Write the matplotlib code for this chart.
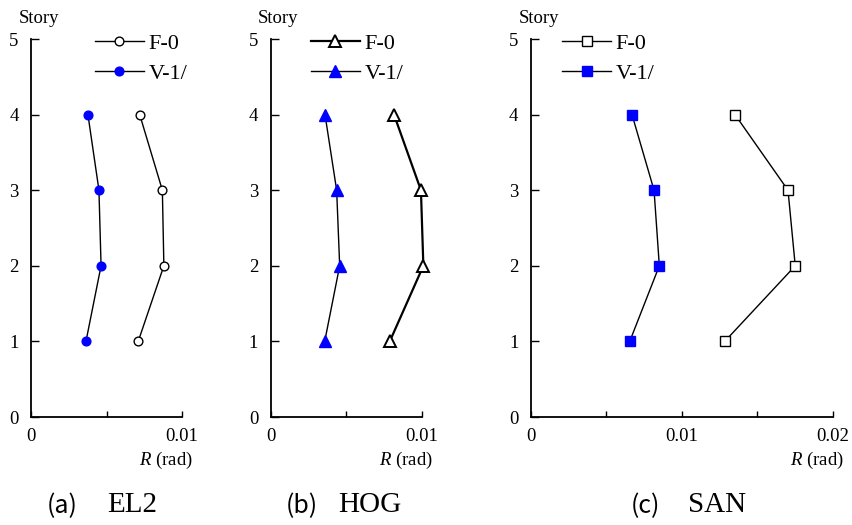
import matplotlib.pyplot as plt
from matplotlib.ticker import FixedLocator

plt.rcParams["mathtext.fontset"] = "custom"
plt.rcParams["mathtext.rm"] = "Liberation Serif"
plt.rcParams["mathtext.it"] = "Liberation Serif:italic"

stories = [1, 2, 3, 4]

el2_f0 = [0.0071, 0.0088, 0.0087, 0.0072]
el2_v1 = [0.00364, 0.00464, 0.0045, 0.00377]
hog_f0 = [0.00787, 0.01009, 0.00993, 0.00815]
hog_v1 = [0.00357, 0.00456, 0.00436, 0.00359]
san_f0 = [0.01283, 0.0175, 0.01702, 0.01351]
san_v1 = [0.00654, 0.0085, 0.00815, 0.00669]

series_labels = ["F-0", "V-1/"]
panel_letters = ["(a)", "(b)", "(c)"]
panel_names = ["EL2", "HOG", "SAN"]
x_max = [0.01, 0.01, 0.02]
x_labels = [["0", "0.01"], ["0", "0.01"], ["0", "0.01", "0.02"]]

SERIF = "Liberation Serif"
SANS = ["Noto Sans CJK JP", "DejaVu Sans"]
W, H = 852, 525

fig = plt.figure(figsize=(W / 100, H / 100), dpi=100)

# axes boxes in figure fraction (left, bottom, width, height)
boxes = [
    (0.0364, 0.2057, 0.1772, 0.72),
    (0.3177, 0.2057, 0.1776, 0.72),
    (0.6232, 0.2057, 0.3545, 0.72),
]
legend_x = [0.424, 0.266, 0.103]
# caption pieces: right edge of letter, left edge of name (pixels)
letter_right = [78, 318, 660]
name_left = [107, 338, 688]
markers = ["o", "^", "s"]
msizes = [6.3, 8.0, 6.5]
data = [(el2_f0, el2_v1), (hog_f0, hog_v1), (san_f0, san_v1)]

for i, box in enumerate(boxes):
    ax = fig.add_axes(box)
    f0, v1 = data[i]
    lw_f0 = 1.6 if i == 1 else 1.0
    ax.plot(f0, stories, color="black", lw=lw_f0, marker=markers[i], ms=msizes[i],
            mfc="white", mec="black", mew=1.4 if i == 1 else 1.0,
            label=series_labels[0], clip_on=False, zorder=3)
    ax.plot(v1, stories, color="black", lw=1.0, marker=markers[i], ms=msizes[i],
            mfc="blue", mec="blue", label=series_labels[1], clip_on=False, zorder=3)

    ax.set_xlim(0, x_max[i])
    ax.set_ylim(0, 5)
    for s in ["top", "right"]:
        ax.spines[s].set_visible(False)
    for s in ["left", "bottom"]:
        ax.spines[s].set_linewidth(1.3)

    step = 0.005
    n = int(round(x_max[i] / step))
    ax.xaxis.set_major_locator(FixedLocator([k * step for k in range(n + 1)]))
    ax.set_xticklabels([x_labels[i][k // 2] if k % 2 == 0 else "" for k in range(n + 1)])
    ax.set_yticks([0, 1, 2, 3, 4, 5])
    ax.set_yticklabels(["0", "1", "2", "3", "4", "5"])
    ax.tick_params(axis="both", direction="in", width=1.0, labelsize=13.5)
    ax.tick_params(axis="x", length=4, pad=8)
    ax.tick_params(axis="y", length=6, pad=9)
    for lab in ax.get_xticklabels() + ax.get_yticklabels():
        lab.set_fontfamily(SERIF)

    ax.annotate("Story", xy=(0, 1), xycoords="axes fraction", xytext=(-9, 15),
                textcoords="offset points", ha="left", va="center",
                fontsize=13.5, family=SERIF)
    ax.annotate("$\\mathit{R}$ (rad)", xy=(1, 0), xycoords="axes fraction",
                xytext=(8, -31), textcoords="offset points", ha="right",
                va="center", fontsize=13.5, family=SERIF)

    ax.legend(loc="upper left", bbox_to_anchor=(legend_x[i], 1.014), frameon=False,
              prop={"family": SERIF, "size": 16}, handlelength=2.2,
              handletextpad=0.22, labelspacing=0.4, borderpad=0, borderaxespad=0)

    fig.text(letter_right[i] / W, 1 - 506 / H, panel_letters[i], ha="right",
             va="center", fontsize=18, family=SANS)
    fig.text(name_left[i] / W, 0.038, panel_names[i], ha="left", va="center",
             fontsize=21, family=SERIF)

fig.savefig("out.png", dpi=100)
